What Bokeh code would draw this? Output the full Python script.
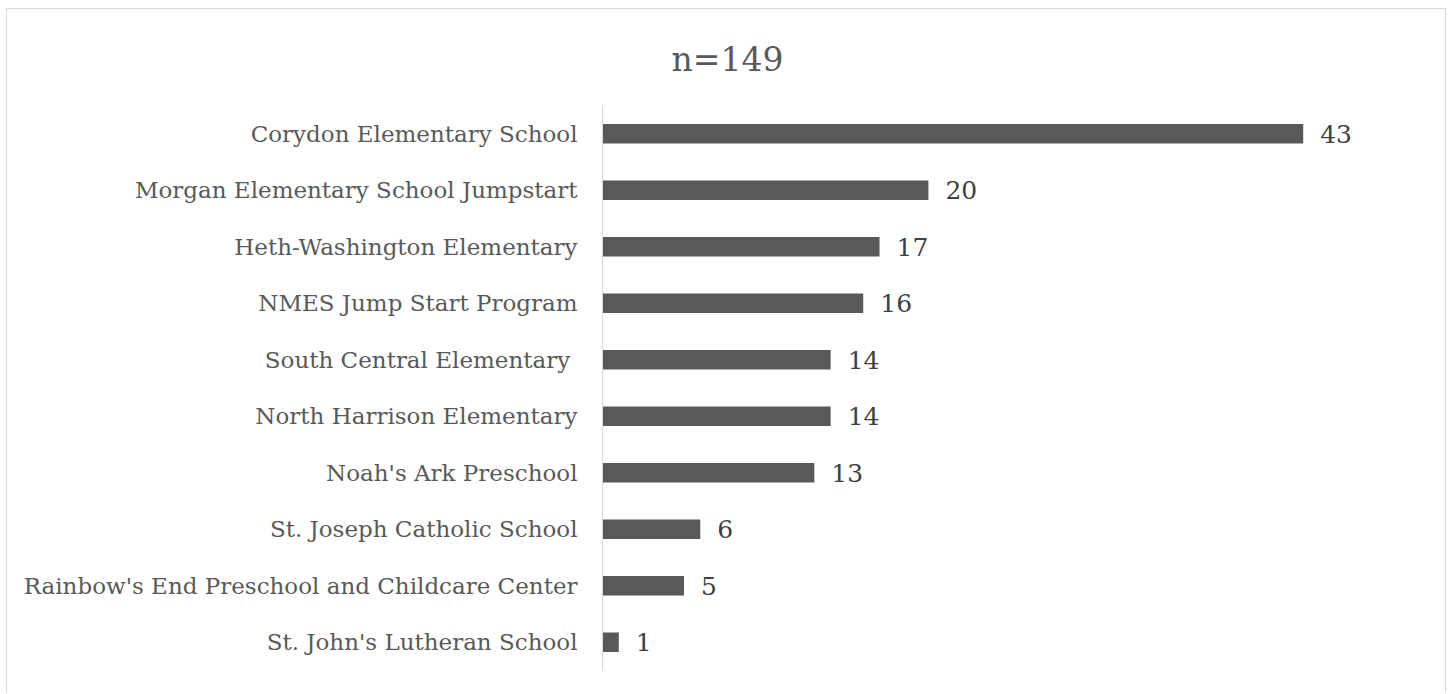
from bokeh.plotting import figure
from bokeh.models import Range1d, FactorRange, ColumnDataSource
from bokeh.core.properties import value
from bokeh.embed import file_html
from bokeh.resources import INLINE

schools = [
    "Corydon Elementary School",
    "Morgan Elementary School Jumpstart",
    "Heth-Washington Elementary",
    "NMES Jump Start Program",
    "South Central Elementary ",
    "North Harrison Elementary",
    "Noah's Ark Preschool",
    "St. Joseph Catholic School",
    "Rainbow's End Preschool and Childcare Center",
    "St. John's Lutheran School",
]
counts = [43, 20, 17, 16, 14, 14, 13, 6, 5, 1]
title_text = "n=149"

FONT = "DejaVu Serif"

src = ColumnDataSource(dict(
    school=schools,
    count=counts,
    label=[str(c) for c in counts],
))

p = figure(
    width=1440, height=685,
    y_range=FactorRange(factors=list(reversed(schools))),
    x_range=Range1d(0, 49.4),
    output_backend="svg", toolbar_location=None,
    min_border_left=595, min_border_right=40,
    min_border_top=96, min_border_bottom=24,
)
p.margin = (8, 0, 0, 6)
p.styles = {"border-top": "1px solid #d9d9d9", "border-left": "1px solid #d9d9d9",
            "border-right": "1px solid #d9d9d9"}
p.outline_line_color = None
p.background_fill_color = "white"
p.border_fill_color = "white"

p.title.text = title_text
p.title.align = "left"
p.title.offset = 69
p.title.standoff = 54
p.title.text_font = FONT
p.title.text_font_size = "33px"
p.title.text_font_style = "normal"
p.title.text_color = "#595959"

p.hbar(y="school", right="count", left=0, height=0.345, source=src,
       fill_color="#595959", line_color=None)

p.text(x="count", y="school", text="label", source=src, x_offset=17,
       text_baseline="middle", text_align="left",
       text_font=value(FONT), text_font_size="25px", text_color="#404040")

p.xaxis.visible = False
p.xgrid.grid_line_color = None
p.ygrid.grid_line_color = None

ax = p.yaxis[0]
ax.axis_line_color = "#d9d9d9"
ax.axis_line_width = 1
ax.major_tick_line_color = None
ax.minor_tick_line_color = None
ax.major_tick_out = 0
ax.major_tick_in = 0
ax.major_label_standoff = 25
ax.major_label_text_font = FONT
ax.major_label_text_font_size = "23px"
ax.major_label_text_color = "#595959"

open("out.html", "w").write(file_html(p, INLINE))
